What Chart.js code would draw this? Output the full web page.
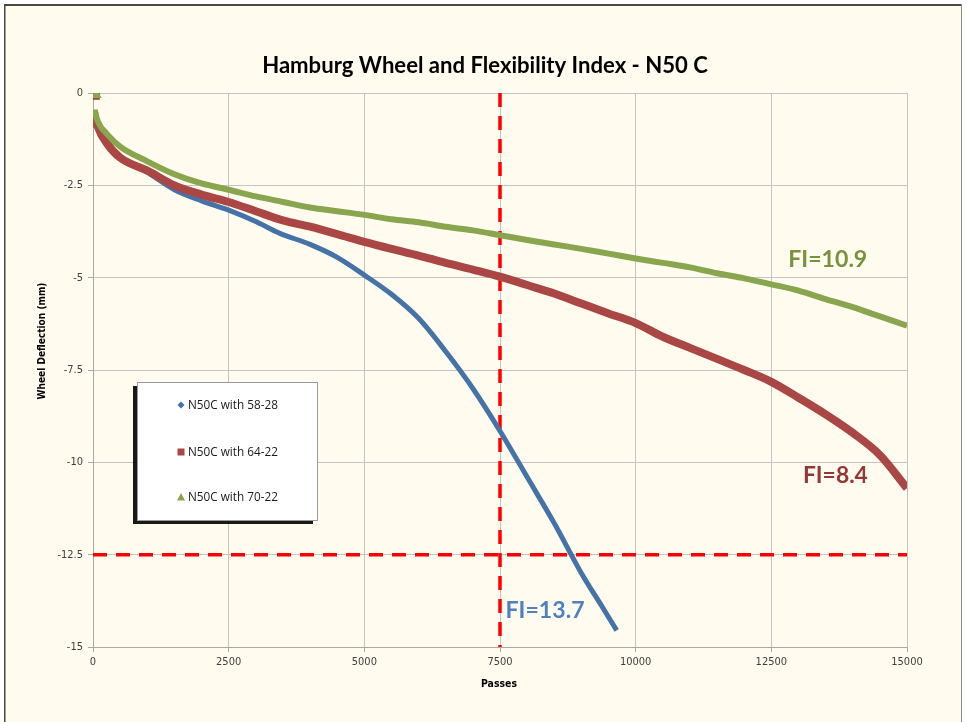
<!DOCTYPE html>
<html>
<head>
<meta charset="utf-8">
<script src="https://cdn.jsdelivr.net/npm/chart.js@4/dist/chart.umd.min.js"></script>
<style>
  html, body { margin: 0; padding: 0; background: #ffffff; }
  #wrap { position: absolute; left: 0; top: 0; width: 967px; height: 722px; }
</style>
</head>
<body>
<div id="wrap"><canvas id="c" width="967" height="722"></canvas></div>
<script>
// ---- Data ----
const seriesNames = ["N50C with 58-28", "N50C with 64-22", "N50C with 70-22"];

const passes5828 = [0, 20, 100, 250, 500, 1000, 1500, 2000, 2500, 3000, 3445, 4000, 4500, 5000, 5500, 6000, 6500, 7000, 7500, 8000, 8500, 9000, 9400, 9650];
const defl5828   = [0, -0.5, -0.95, -1.35, -1.75, -2.15, -2.62, -2.92, -3.17, -3.48, -3.8, -4.1, -4.45, -4.93, -5.45, -6.1, -7.0, -8.0, -9.15, -10.4, -11.65, -13.0, -13.95, -14.55];

const passes6422 = [0, 20, 100, 250, 500, 1000, 1500, 2000, 2500, 3000, 3500, 4000, 4500, 5000, 5500, 6000, 6500, 7000, 7500, 8000, 8500, 9000, 9500, 10000, 10500, 11000, 11500, 12000, 12500, 13000, 13500, 14000, 14500, 15000];
const defl6422   = [0, -0.5, -0.95, -1.35, -1.75, -2.1, -2.5, -2.75, -2.95, -3.2, -3.45, -3.62, -3.82, -4.03, -4.22, -4.4, -4.6, -4.78, -4.97, -5.2, -5.43, -5.7, -5.97, -6.23, -6.6, -6.9, -7.2, -7.5, -7.82, -8.25, -8.7, -9.2, -9.8, -10.7];

const passes7022 = [0, 30, 100, 250, 500, 1000, 1500, 2000, 2500, 3000, 3500, 4000, 4500, 5000, 5500, 6000, 6500, 7000, 7500, 8000, 8500, 9000, 9500, 10000, 10500, 11000, 11500, 12000, 12500, 13000, 13500, 14000, 14500, 15000];
const defl7022   = [0, -0.45, -0.8, -1.1, -1.45, -1.85, -2.2, -2.45, -2.62, -2.8, -2.95, -3.1, -3.2, -3.3, -3.42, -3.5, -3.62, -3.72, -3.85, -3.98, -4.1, -4.22, -4.35, -4.48, -4.6, -4.72, -4.88, -5.02, -5.18, -5.35, -5.58, -5.8, -6.05, -6.3];

const xTicks = [0, 2500, 5000, 7500, 10000, 12500, 15000];
const yTicks = [0, -2.5, -5, -7.5, -10, -12.5, -15];

const fiLabels = ["FI=13.7", "FI=8.4", "FI=10.9"];
const fiPasses = [8330, 13680, 13540];
const fiDefl   = [-14.0, -10.37, -4.5];

const limitPasses = 7500;
const limitDefl = -12.5;

// ---- styling ----
const colors   = ["#4572A7", "#AA4643", "#89A54E"];
const fiColors = ["#4F81BD", "#953735", "#77933C"];
const lineW    = [5, 8, 6];

function pts(xs, ys) { return xs.map((x, i) => ({ x: x, y: ys[i] })); }

const datasets = [
  pts(passes5828, defl5828),
  pts(passes6422, defl6422),
  pts(passes7022, defl7022)
].map((d, i) => ({
  label: seriesNames[i],
  data: d,
  showLine: true,
  borderColor: colors[i],
  backgroundColor: colors[i],
  borderWidth: lineW[i],
  cubicInterpolationMode: 'monotone',
  pointStyle: ['rectRot', 'rect', 'triangle'][i],
  pointRadius: ctx => ctx.dataIndex === 0 ? 4 : 0,
  pointHoverRadius: 0,
  segment: { borderColor: ctx => ctx.p0DataIndex === 0 ? 'rgba(0,0,0,0)' : undefined }
}));
datasets[0].order = 3; datasets[1].order = 2; datasets[2].order = 1;

function fitFont(ctx, text, weight, family, targetW) {
  ctx.font = weight + " 20px " + family;
  const w = ctx.measureText(text).width;
  const size = 20 * targetW / w;
  return weight + " " + size.toFixed(2) + "px " + family;
}

const deco = {
  id: 'deco',
  beforeDraw(chart) {
    const ctx = chart.ctx;
    ctx.save();
    ctx.fillStyle = '#ffffff';
    ctx.fillRect(0, 0, 967, 722);
    ctx.fillStyle = '#FFFCEF';
    ctx.fillRect(4, 5, 957, 717);
    ctx.fillStyle = '#4a4843';
    ctx.fillRect(4, 4, 958, 2);
    ctx.fillRect(4, 4, 1.5, 718);
    ctx.fillStyle = '#8a8a8a';
    ctx.fillRect(961, 4, 1, 718);
    ctx.restore();
  },
  beforeDatasetsDraw(chart) {
    const ctx = chart.ctx, xs = chart.scales.x, ys = chart.scales.y;
    const a = chart.chartArea;
    ctx.save();
    ctx.strokeStyle = '#FF0000';
    ctx.lineWidth = 3.5;
    ctx.setLineDash([14, 9]);
    const vx = xs.getPixelForValue(limitPasses);
    ctx.beginPath(); ctx.moveTo(vx, a.top); ctx.lineTo(vx, a.bottom); ctx.stroke();
    const hy = ys.getPixelForValue(limitDefl);
    ctx.beginPath(); ctx.moveTo(a.left, hy); ctx.lineTo(a.right, hy); ctx.stroke();
    ctx.restore();
  },
  afterDraw(chart) {
    const ctx = chart.ctx, xs = chart.scales.x, ys = chart.scales.y;
    ctx.save();
    ctx.fillStyle = '#000000';
    ctx.textAlign = 'center';
    ctx.textBaseline = 'middle';
    const title = "Hamburg Wheel and Flexibility Index - N50 C";
    ctx.font = fitFont(ctx, title, 'bold', 'Lato, "Open Sans", sans-serif', 446);
    ctx.fillText(title, 485, 66);
    ctx.font = fitFont(ctx, "Passes", 'bold', '"Liberation Sans Narrow", "DejaVu Sans Condensed", sans-serif', 36);
    ctx.fillText("Passes", 499, 684);
    ctx.save();
    ctx.translate(42, 341);
    ctx.rotate(-Math.PI / 2);
    ctx.font = fitFont(ctx, "Wheel Deflection (mm)", 'bold', '"Liberation Sans Narrow", "DejaVu Sans Condensed", sans-serif', 117);
    ctx.fillText("Wheel Deflection (mm)", 0, 0);
    ctx.restore();
    const fiW = [79, 65, 79];
    for (let i = 0; i < fiLabels.length; i++) {
      ctx.fillStyle = fiColors[i];
      ctx.font = fitFont(ctx, fiLabels[i], 'bold', 'Lato, "Open Sans", sans-serif', fiW[i]);
      ctx.fillText(fiLabels[i], xs.getPixelForValue(fiPasses[i]), ys.getPixelForValue(fiDefl[i]));
    }
    const L = 137, T = 382, W = 180, H = 138;
    ctx.fillStyle = 'rgba(0,0,0,0.9)';
    ctx.fillRect(L - 4, T + 4, W, H);
    ctx.fillStyle = '#ffffff';
    ctx.fillRect(L, T, W, H);
    ctx.strokeStyle = '#9a9a9a';
    ctx.lineWidth = 1;
    ctx.strokeRect(L + 0.5, T + 0.5, W, H);
    const rowY = [405, 452, 497];
    ctx.textAlign = 'left';
    for (let i = 0; i < 3; i++) {
      const mx = 181, my = rowY[i];
      ctx.fillStyle = colors[i];
      ctx.beginPath();
      if (i === 0) {
        ctx.moveTo(mx, my - 3.5); ctx.lineTo(mx + 3.5, my); ctx.lineTo(mx, my + 3.5); ctx.lineTo(mx - 3.5, my); ctx.closePath();
      } else if (i === 1) {
        ctx.rect(mx - 3.5, my - 3.5, 7, 7);
      } else {
        ctx.moveTo(mx, my - 4); ctx.lineTo(mx + 4, my + 3.5); ctx.lineTo(mx - 4, my + 3.5); ctx.closePath();
      }
      ctx.fill();
      ctx.fillStyle = '#1a1a1a';
      ctx.font = fitFont(ctx, seriesNames[i], 'normal', '"Open Sans", "Liberation Sans", sans-serif', 90);
      ctx.fillText(seriesNames[i], 188, my + 0.5);
    }
    ctx.restore();
  }
};

const tickFont = { family: '"Liberation Sans Narrow", "DejaVu Sans Condensed", sans-serif', size: 11 };

new Chart(document.getElementById('c'), {
  type: 'scatter',
  data: { datasets: datasets },
  plugins: [deco],
  options: {
    responsive: false,
    animation: false,
    events: [],
    layout: { padding: { left: 0, right: 60, top: 93, bottom: 0 } },
    plugins: { legend: { display: false }, title: { display: false }, tooltip: { enabled: false } },
    scales: {
      x: {
        type: 'linear', min: 0, max: 15000,
        afterBuildTicks: s => { s.ticks = xTicks.map(v => ({ value: v })); },
        afterFit: s => { s.height = 75; },
        ticks: { font: tickFont, color: '#404040', padding: 4, maxRotation: 0, callback: v => String(v) },
        grid: { color: '#c4c4c4', lineWidth: 1, tickLength: 5, tickColor: '#a8a8a8' },
        border: { color: '#a8a8a8', width: 1 }
      },
      y: {
        type: 'linear', min: -15, max: 0,
        afterBuildTicks: s => { s.ticks = yTicks.map(v => ({ value: v })); },
        afterFit: s => { s.width = 93; },
        ticks: { font: tickFont, color: '#404040', padding: 5, callback: v => String(v) },
        grid: { color: '#c4c4c4', lineWidth: 1, tickLength: 5, tickColor: '#a8a8a8' },
        border: { color: '#a8a8a8', width: 1 }
      }
    }
  }
});
</script>
</body>
</html>
